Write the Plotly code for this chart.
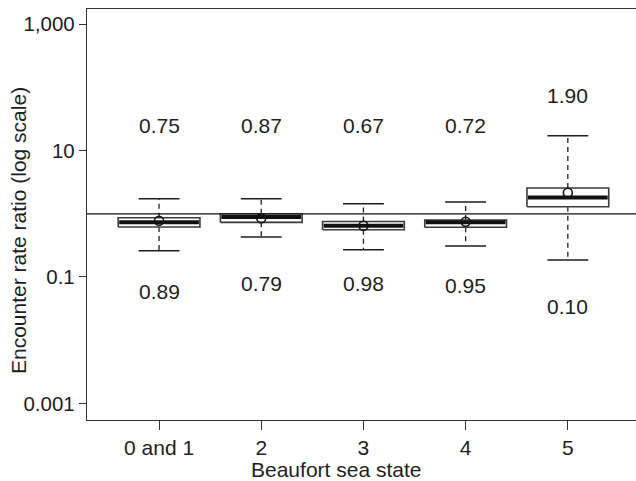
import plotly.graph_objects as go

# ---- data ----
categories = ["0 and 1", "2", "3", "4", "5"]
lower_whisker = [0.261, 0.429, 0.270, 0.309, 0.186]
q1 = [0.618, 0.733, 0.560, 0.611, 1.295]
median = [0.733, 0.890, 0.648, 0.733, 1.82]
q3 = [0.868, 1.000, 0.755, 0.798, 2.56]
upper_whisker = [1.73, 1.73, 1.445, 1.54, 17.2]
mean = [0.778, 0.849, 0.648, 0.750, 2.16]
upper_labels = ["0.75", "0.87", "0.67", "0.72", "1.90"]
lower_labels = ["0.89", "0.79", "0.98", "0.95", "0.10"]
y_tick_vals = [0.001, 0.1, 10, 1000]
y_tick_text = ["0.001", "0.1", "10", "1,000"]
x_title = "Beaufort sea state"
y_title = "Encounter rate ratio (log scale)"

# label placement (log10 units)
upper_label_pos = [1.40, 1.40, 1.40, 1.40, 1.88]
lower_label_pos = [-1.233, -1.111, -1.100, -1.127, -1.471]

FONT = "Liberation Sans, Arial, sans-serif"
DARK = "#1e1e1e"
BOX_HW = 0.40
CAP_HW = 0.20

xs = list(range(1, len(categories) + 1))
fig = go.Figure()

for i, x in enumerate(xs):
    # whiskers (dashed)
    fig.add_trace(go.Scatter(x=[x, x], y=[q3[i], upper_whisker[i]], mode="lines",
                             line=dict(color=DARK, width=1.3, dash="5px,4px"),
                             showlegend=False, hoverinfo="skip"))
    fig.add_trace(go.Scatter(x=[x, x], y=[q1[i], lower_whisker[i]], mode="lines",
                             line=dict(color=DARK, width=1.3, dash="5px,4px"),
                             showlegend=False, hoverinfo="skip"))
    # caps
    for w in (upper_whisker[i], lower_whisker[i]):
        fig.add_trace(go.Scatter(x=[x - CAP_HW, x + CAP_HW], y=[w, w], mode="lines",
                                 line=dict(color=DARK, width=1.5),
                                 showlegend=False, hoverinfo="skip"))
    # box
    fig.add_trace(go.Scatter(x=[x - BOX_HW, x + BOX_HW, x + BOX_HW, x - BOX_HW, x - BOX_HW],
                             y=[q1[i], q1[i], q3[i], q3[i], q1[i]],
                             mode="lines", fill="toself", fillcolor="white",
                             line=dict(color="#3a3a3a", width=1.6),
                             showlegend=False, hoverinfo="skip"))
    # median
    fig.add_trace(go.Scatter(x=[x - BOX_HW + 0.01, x + BOX_HW - 0.01], y=[median[i], median[i]],
                             mode="lines", line=dict(color="#111111", width=4),
                             showlegend=False, hoverinfo="skip"))

# means
fig.add_trace(go.Scatter(x=xs, y=mean, mode="markers",
                         marker=dict(symbol="circle-open", size=9,
                                     line=dict(color="#111111", width=1.6), color="#111111"),
                         showlegend=False, hoverinfo="skip"))

# reference line at ratio = 1
fig.add_shape(type="line", xref="paper", x0=0, x1=1, yref="y", y0=1, y1=1,
              line=dict(color="#111111", width=1.3), layer="above")

for i, x in enumerate(xs):
    fig.add_annotation(x=x, y=upper_label_pos[i], text=upper_labels[i], showarrow=False,
                       font=dict(family=FONT, size=21, color=DARK))
    fig.add_annotation(x=x, y=lower_label_pos[i], text=lower_labels[i], showarrow=False,
                       font=dict(family=FONT, size=21, color=DARK))

# axis titles
fig.add_annotation(xref="paper", yref="paper", x=(336 - 87) / 549, y=(420 - 469) / 411,
                   xanchor="center", yanchor="middle", text=x_title, showarrow=False,
                   font=dict(family=FONT, size=21, color=DARK))
fig.add_annotation(xref="paper", yref="paper", x=(18 - 87) / 549, y=(420 - 231) / 411,
                   xanchor="center", yanchor="middle", text=y_title, showarrow=False,
                   textangle=-90, font=dict(family=FONT, size=21, color=DARK))

fig.update_layout(
    width=636, height=481,
    margin=dict(l=87, r=0, t=9, b=61),
    paper_bgcolor="white", plot_bgcolor="white",
    font=dict(family=FONT, size=20, color=DARK),
    showlegend=False,
    xaxis=dict(range=[0.295, 5.667], tickvals=xs, ticktext=categories,
               showline=True, linecolor="#333333", linewidth=1.3, mirror=True,
               ticks="outside", ticklen=9, tickwidth=1.3, tickcolor="#333333",
               showgrid=False, zeroline=False,
               tickfont=dict(family=FONT, size=21, color=DARK)),
    yaxis=dict(type="log", range=[-3.264, 3.242], tickvals=y_tick_vals, ticktext=y_tick_text,
               showline=True, linecolor="#333333", linewidth=1.3, mirror=False,
               ticks="outside", ticklen=7, tickwidth=1.3, tickcolor="#333333",
               showgrid=False, zeroline=False,
               tickfont=dict(family=FONT, size=20.5, color=DARK)),
)

fig.write_html("out.html")
